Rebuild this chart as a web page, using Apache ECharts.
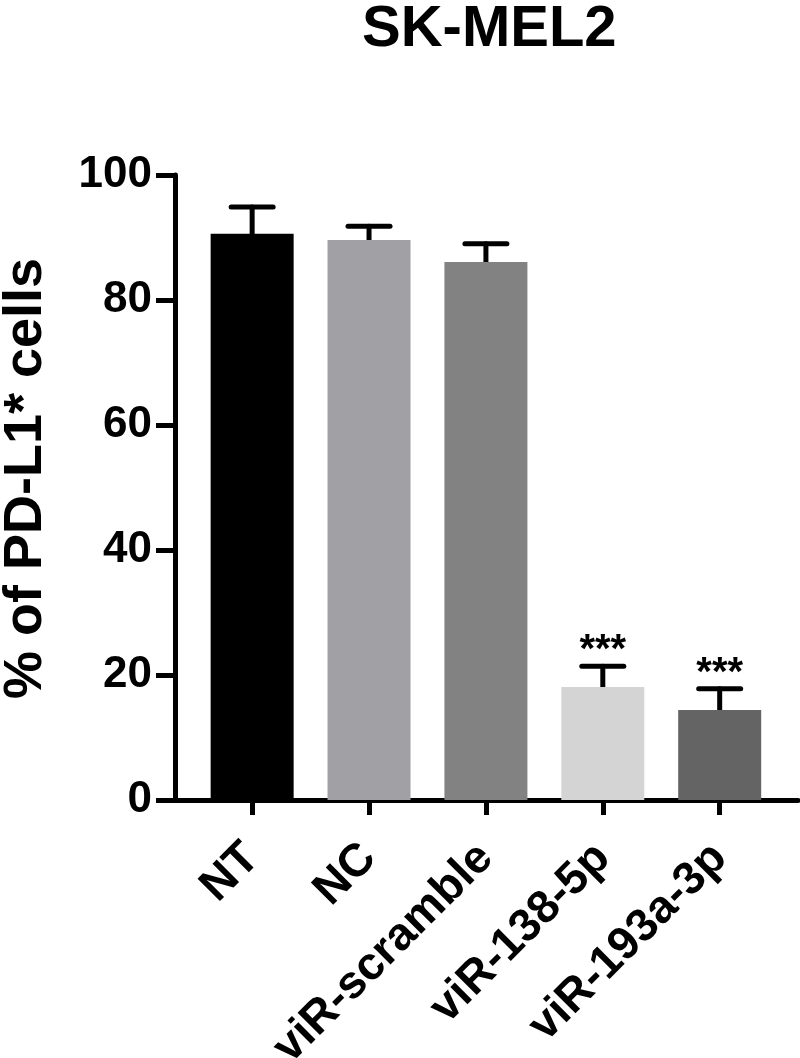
<!DOCTYPE html>
<html>
<head>
<meta charset="utf-8">
<script src="https://cdn.jsdelivr.net/npm/echarts@6/dist/echarts.min.js"></script>
<style>html,body{margin:0;padding:0;background:#fff}#c{width:800px;height:1058px}</style>
</head>
<body>
<div id="c"></div>
<script>
const categories = ['NT', 'NC', 'viR-scramble', 'viR-138-5p', 'viR-193a-3p'];
const means = [90.6, 89.6, 86.1, 18.1, 14.4];
const errors = [4.3, 2.2, 2.9, 3.3, 3.4];
const significance = ['', '', '', '***', '***'];
const barColors = ['#000000', '#a1a1a5', '#828282', '#d4d4d4', '#646464'];
const yTicks = [0, 20, 40, 60, 80, 100];

const FONT = '"Liberation Sans", Arial, Helvetica, sans-serif';
const chart = echarts.init(document.getElementById('c'), null, {renderer: 'canvas'});

const barData = means.map((v, i) => ({value: [i, v], itemStyle: {color: barColors[i]}}));
const errData = means.map((v, i) => [i, v, v + errors[i], significance[i]]);

chart.setOption({
  animation: false,
  backgroundColor: '#ffffff',
  title: {
    text: 'SK-MEL2',
    left: 357,
    top: -4,
    textStyle: {fontFamily: FONT, fontWeight: 'bold', fontSize: 58, color: '#000'}
  },
  grid: {left: 175, right: 2, top: 175, bottom: 258, containLabel: false, outerBoundsMode: 'none'},
  xAxis: {
    type: 'value',
    min: -0.66,
    max: 4.67,
    splitLine: {show: false},
    axisLine: {show: true, onZero: false, lineStyle: {color: '#000', width: 5}},
    axisTick: {show: true, customValues: [0, 1, 2, 3, 4], length: 15, lineStyle: {color: '#000', width: 5}},
    axisLabel: {
      customValues: [0, 1, 2, 3, 4],
      formatter: v => categories[Math.round(v)],
      rotate: 45,
      margin: 51,
      fontFamily: FONT, fontWeight: 'bold', fontSize: 46, color: '#000'
    }
  },
  yAxis: {
    type: 'value',
    min: 0,
    max: 100,
    interval: 20,
    name: '% of PD-L1* cells',
    nameLocation: 'middle',
    nameGap: 122,
    nameTextStyle: {fontFamily: FONT, fontWeight: 'bold', fontSize: 54, color: '#000', padding: [0, 0, 0, 18]},
    splitLine: {show: false},
    axisLine: {show: true, onZero: false, lineStyle: {color: '#000', width: 5}},
    axisTick: {show: true, length: 19, lineStyle: {color: '#000', width: 5}},
    axisLabel: {
      margin: 23,
      formatter: v => yTicks.includes(v) ? String(v) : '',
      fontFamily: FONT, fontWeight: 'bold', fontSize: 44, color: '#000'
    }
  },
  series: [
    {
      type: 'bar',
      data: barData,
      barWidth: 83,
      z: 2
    },
    {
      type: 'custom',
      data: errData,
      z: 1,
      renderItem: function (params, api) {
        const i = api.value(0);
        const base = api.coord([i, api.value(1)]);
        const top = api.coord([i, api.value(2)]);
        const half = 21;
        const label = errData[params.dataIndex][3];
        const children = [
          {type: 'line', shape: {x1: base[0], y1: base[1], x2: top[0], y2: top[1]},
           style: {stroke: '#000', lineWidth: 5, lineCap: 'round'}},
          {type: 'line', shape: {x1: top[0] - half, y1: top[1], x2: top[0] + half, y2: top[1]},
           style: {stroke: '#000', lineWidth: 5, lineCap: 'round'}}
        ];
        if (label) {
          children.push({type: 'text', style: {
            text: label, x: top[0], y: top[1] - 15,
            align: 'center', verticalAlign: 'middle',
            font: 'bold 40px ' + FONT, fill: '#000'
          }});
        }
        return {type: 'group', children: children};
      }
    }
  ]
});
</script>
</body>
</html>
